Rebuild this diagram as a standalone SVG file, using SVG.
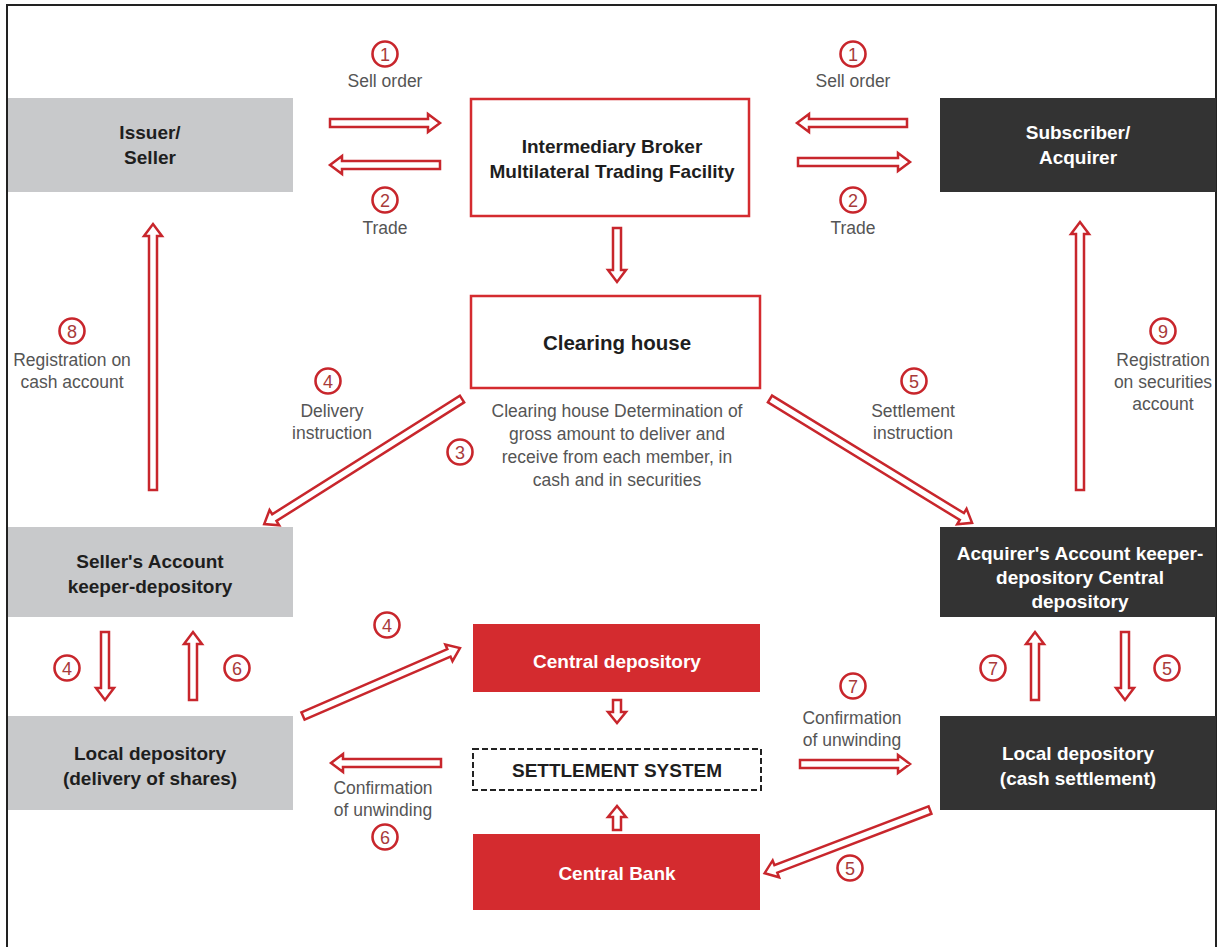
<svg xmlns="http://www.w3.org/2000/svg" width="1222" height="947" viewBox="0 0 1222 947">
<style>
.bg{fill:#ffffff}
.frame{fill:none;stroke:#222;stroke-width:2}
.gray{fill:#c8c9cb}
.dark{fill:#333333}
.redbox{fill:#d42b2f}
.outbox{fill:#fff;stroke:#d42b2f;stroke-width:2.5}
.dash{fill:#fff;stroke:#222;stroke-width:2;stroke-dasharray:6 3}
.nt{font-family:"Liberation Sans",Arial,sans-serif;font-weight:bold;font-size:19px;text-anchor:middle;fill:#1e1e1e}
.wt{font-family:"Liberation Sans",Arial,sans-serif;font-weight:bold;font-size:19px;text-anchor:middle;fill:#ffffff}
.lbl{font-family:"Liberation Sans",Arial,sans-serif;font-size:17.5px;text-anchor:middle;fill:#555}
.arr{fill:#fff;stroke:#c8262c;stroke-width:2.5;stroke-linejoin:miter}
.num circle{fill:#fff;stroke:#c8262c;stroke-width:2.6}
.num text{font-family:"Liberation Sans",Arial,sans-serif;font-size:18px;text-anchor:middle;fill:#a83a3a}
</style>
<rect class="bg" x="0" y="0" width="1222" height="947"/>
<path class="frame" d="M7,960 V5 H1216 V960"/>

<g id="issuer"><rect class="gray" x="8" y="98" width="285" height="94"/><text class="nt" x="150" y="139">Issuer/</text><text class="nt" x="150" y="164">Seller</text></g>
<g id="broker"><rect class="outbox" x="471" y="99" width="278" height="117"/><text class="nt" x="612" y="153">Intermediary Broker</text><text class="nt" x="612" y="178">Multilateral Trading Facility</text></g>
<g id="subscriber"><rect class="dark" x="940" y="98" width="276" height="94"/><text class="wt" x="1078" y="139">Subscriber/</text><text class="wt" x="1078" y="164">Acquirer</text></g>
<g id="clearing"><rect class="outbox" x="471" y="296" width="289" height="92"/><text class="nt" x="617" y="350" style="font-size:20.5px">Clearing house</text></g>
<g id="seller-account"><rect class="gray" x="8" y="527" width="285" height="90"/><text class="nt" x="150" y="568">Seller's Account</text><text class="nt" x="150" y="593">keeper-depository</text></g>
<g id="acquirer-account"><rect class="dark" x="940" y="527" width="276" height="90"/><text class="wt" x="1080" y="560">Acquirer's Account keeper-</text><text class="wt" x="1080" y="584">depository Central</text><text class="wt" x="1080" y="608">depository</text></g>
<g id="central-depository"><rect class="redbox" x="473" y="624" width="287" height="68"/><text class="wt" x="617" y="668">Central depository</text></g>
<g id="settlement-system"><rect class="dash" x="473" y="749" width="288" height="41"/><text class="nt" x="617" y="777">SETTLEMENT SYSTEM</text></g>
<g id="central-bank"><rect class="redbox" x="473" y="834" width="287" height="76"/><text class="wt" x="617" y="880">Central Bank</text></g>
<g id="local-left"><rect class="gray" x="8" y="716" width="285" height="94"/><text class="nt" x="150" y="760">Local depository</text><text class="nt" x="150" y="785">(delivery of shares)</text></g>
<g id="local-right"><rect class="dark" x="940" y="716" width="276" height="94"/><text class="wt" x="1078" y="760">Local depository</text><text class="wt" x="1078" y="785">(cash settlement)</text></g>

<g id="connectors">
<polygon class="arr" transform="translate(330,123)" points="0,-4 98,-4 98,-9 110,0 98,9 98,4 0,4"/>
<polygon class="arr" transform="translate(440,165) rotate(180)" points="0,-4 98,-4 98,-9 110,0 98,9 98,4 0,4"/>
<polygon class="arr" transform="translate(907,123) rotate(180)" points="0,-4 98,-4 98,-9 110,0 98,9 98,4 0,4"/>
<polygon class="arr" transform="translate(798,162)" points="0,-4 100,-4 100,-9 112,0 100,9 100,4 0,4"/>
<polygon class="arr" transform="translate(617,228) rotate(90)" points="0,-4 42,-4 42,-9 54,0 42,9 42,4 0,4"/>
<polygon class="arr" transform="translate(153,490) rotate(-90)" points="0,-4 254,-4 254,-9 266,0 254,9 254,4 0,4"/>
<polygon class="arr" transform="translate(1080,490) rotate(-90)" points="0,-4 256,-4 256,-9 268,0 256,9 256,4 0,4"/>
<polygon class="arr" transform="translate(462,399) rotate(147.7)" points="0,-4 222,-4 222,-9 234,0 222,9 222,4 0,4"/>
<polygon class="arr" transform="translate(770,399) rotate(31.5)" points="0,-4 225,-4 225,-9 237,0 225,9 225,4 0,4"/>
<polygon class="arr" transform="translate(105,632) rotate(90)" points="0,-4 56,-4 56,-9 68,0 56,9 56,4 0,4"/>
<polygon class="arr" transform="translate(193,700) rotate(-90)" points="0,-4 56,-4 56,-9 68,0 56,9 56,4 0,4"/>
<polygon class="arr" transform="translate(1035,700) rotate(-90)" points="0,-4 56,-4 56,-9 68,0 56,9 56,4 0,4"/>
<polygon class="arr" transform="translate(1125,632) rotate(90)" points="0,-4 56,-4 56,-9 68,0 56,9 56,4 0,4"/>
<polygon class="arr" transform="translate(303,716) rotate(-23.4)" points="0,-4 159,-4 159,-9 171,0 159,9 159,4 0,4"/>
<polygon class="arr" transform="translate(617,700) rotate(90)" points="0,-4 12,-4 12,-9 23,0 12,9 12,4 0,4"/>
<polygon class="arr" transform="translate(617,830) rotate(-90)" points="0,-4 13,-4 13,-9 24,0 13,9 13,4 0,4"/>
<polygon class="arr" transform="translate(441,763) rotate(180)" points="0,-4 98,-4 98,-9 110,0 98,9 98,4 0,4"/>
<polygon class="arr" transform="translate(800,764)" points="0,-4 98,-4 98,-9 110,0 98,9 98,4 0,4"/>
<polygon class="arr" transform="translate(930,810) rotate(159.1)" points="0,-4 165,-4 165,-9 177,0 165,9 165,4 0,4"/>
</g>

<g id="labels">
<g class="num"><circle cx="385" cy="54" r="12.5"/><text x="385" y="60.5">1</text></g>
<text class="lbl" x="385" y="87">Sell order</text>
<g class="num"><circle cx="385" cy="200" r="12.5"/><text x="385" y="206.5">2</text></g>
<text class="lbl" x="385" y="234">Trade</text>
<g class="num"><circle cx="853" cy="54" r="12.5"/><text x="853" y="60.5">1</text></g>
<text class="lbl" x="853" y="87">Sell order</text>
<g class="num"><circle cx="853" cy="200" r="12.5"/><text x="853" y="206.5">2</text></g>
<text class="lbl" x="853" y="234">Trade</text>

<g class="num"><circle cx="72" cy="331" r="12.5"/><text x="72" y="337.5">8</text></g>
<text class="lbl" x="72" y="366">Registration on</text>
<text class="lbl" x="72" y="388">cash account</text>

<g class="num"><circle cx="1163" cy="331" r="12.5"/><text x="1163" y="337.5">9</text></g>
<text class="lbl" x="1163" y="366">Registration</text>
<text class="lbl" x="1163" y="388">on securities</text>
<text class="lbl" x="1163" y="410">account</text>

<g class="num"><circle cx="328" cy="381" r="12.5"/><text x="328" y="387.5">4</text></g>
<text class="lbl" x="332" y="417">Delivery</text>
<text class="lbl" x="332" y="439">instruction</text>

<g class="num"><circle cx="914" cy="381" r="12.5"/><text x="914" y="387.5">5</text></g>
<text class="lbl" x="913" y="417">Settlement</text>
<text class="lbl" x="913" y="439">instruction</text>

<text class="lbl" x="617" y="417">Clearing house Determination of</text>
<text class="lbl" x="617" y="440">gross amount to deliver and</text>
<text class="lbl" x="617" y="463">receive from each member, in</text>
<text class="lbl" x="617" y="486">cash and in securities</text>
<g class="num"><circle cx="460" cy="452" r="12.5"/><text x="460" y="458.5">3</text></g>

<g class="num"><circle cx="67" cy="668" r="12.5"/><text x="67" y="674.5">4</text></g>
<g class="num"><circle cx="237" cy="668" r="12.5"/><text x="237" y="674.5">6</text></g>
<g class="num"><circle cx="993" cy="668" r="12.5"/><text x="993" y="674.5">7</text></g>
<g class="num"><circle cx="1167" cy="668" r="12.5"/><text x="1167" y="674.5">5</text></g>

<g class="num"><circle cx="387" cy="625" r="12.5"/><text x="387" y="631.5">4</text></g>

<text class="lbl" x="383" y="794">Confirmation</text>
<text class="lbl" x="383" y="816">of unwinding</text>
<g class="num"><circle cx="385" cy="837" r="12.5"/><text x="385" y="843.5">6</text></g>

<g class="num"><circle cx="853" cy="686" r="12.5"/><text x="853" y="692.5">7</text></g>
<text class="lbl" x="852" y="724">Confirmation</text>
<text class="lbl" x="852" y="746">of unwinding</text>

<g class="num"><circle cx="850" cy="868" r="12.5"/><text x="850" y="874.5">5</text></g>
</g>
</svg>
